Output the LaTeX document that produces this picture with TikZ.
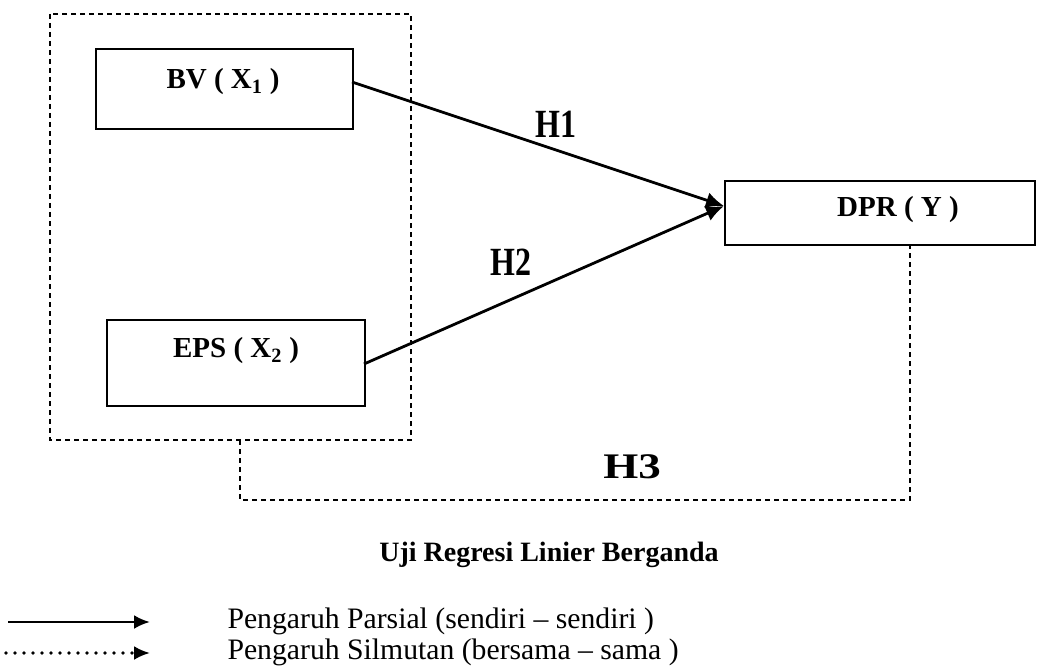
\documentclass[tikz,border=0pt]{standalone}
\usepackage{fontspec}
\setmainfont{Liberation Serif}
\usetikzlibrary{arrows.meta,calc}
\begin{document}
\begin{tikzpicture}[x=1pt,y=-1pt,
  box/.style={draw,line width=2.2pt,inner sep=0pt},
  boxtext/.style={font=\fontsize{29}{32}\selectfont\bfseries,anchor=center},
  solidarrow/.style={line width=2.8pt,-{Latex[length=18pt,width=16pt]}},
  legarrow/.style={line width=2.8pt,-{Latex[length=16pt,width=14pt]}},
  dash2/.style={line width=2pt,dash pattern=on 5pt off 4pt},
  hlab/.style={font=\fontsize{40}{42}\selectfont\bfseries,anchor=center},
  legtext/.style={font=\fontsize{29.7}{33}\selectfont,anchor=west}]
\useasboundingbox (0,0) rectangle (1062,671);
% outer dashed group
\draw[dash2] (50,14) rectangle (411,440);
% boxes
\node[box,minimum width=257pt,minimum height=80pt,anchor=north west] (bv) at (95,48) {};
\node[boxtext] at (223,82) {BV ( X\textsubscript{1} )};
\node[box,minimum width=258pt,minimum height=86pt,anchor=north west] (eps) at (106,319) {};
\node[boxtext] at (236,351) {EPS ( X\textsubscript{2} )};
\node[box,minimum width=310pt,minimum height=64pt,anchor=north west] (dpr) at (724,180) {};
\node[boxtext] at (898,210) {DPR ( Y )};
\coordinate (bvout) at (352,82);
\coordinate (epsout) at (364,364);
\coordinate (dprin) at (724,206);
\draw[solidarrow] (bvout) -- (dprin);
\draw[solidarrow] (epsout) -- (dprin);
\node[hlab,xscale=0.8] (h1) at (556,124) {H1};
\node[hlab,xscale=0.8] (h2) at (511,262) {H2};
% H3 dashed connector
\coordinate (g) at (240,440);
\coordinate (gd) at (240,500);
\coordinate (yd) at (910,500);
\coordinate (yb) at (910,244);
\draw[dash2] (g) -- (gd) -- (yd) -- (yb);
\node[font=\fontsize{36}{38}\selectfont\bfseries,xscale=1.25] (h3) at (632,467) {H3};
% title
\node[font=\fontsize{28}{30}\selectfont\bfseries] (title) at (549,555) {Uji Regresi Linier Berganda};
% legend
\coordinate (l1a) at (8,622);
\coordinate (l1b) at (150,622);
\coordinate (l2a) at (6,653);
\coordinate (l2b) at (150,653);
\coordinate (l2m) at (134,653);
\draw[legarrow] (l1a) -- (l1b);
\draw[line width=3.6pt,line cap=round,dash pattern=on 0pt off 9pt] (l2a) -- (l2m);
\draw[legarrow] (l2m) -- (l2b);
\node[legtext] (t1) at (224,621) {Pengaruh Parsial (sendiri – sendiri )};
\node[legtext] (t2) at (224,652) {Pengaruh Silmutan (bersama – sama )};
\end{tikzpicture}
\end{document}
